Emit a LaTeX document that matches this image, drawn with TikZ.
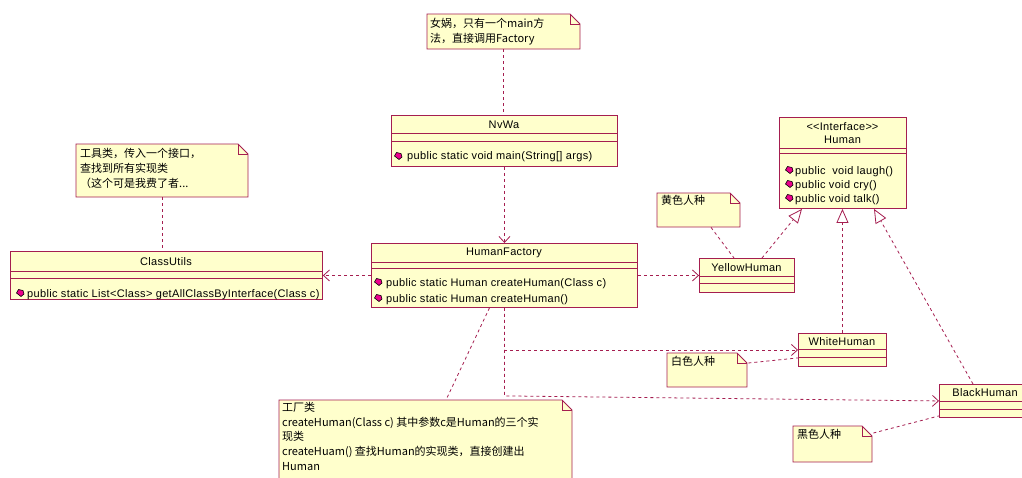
\documentclass[tikz,border=0pt]{standalone}
\usepackage{fontspec}
\setmainfont{Liberation Sans}[LetterSpace=3]
\newfontfamily\cjk{Noto Sans CJK SC}
\usetikzlibrary{arrows.meta,calc}
\definecolor{rose}{RGB}{165,30,80}
\definecolor{notefill}{RGB}{255,255,204}
\tikzset{
  classframe/.style={draw=rose, fill=notefill, line width=0.9pt, inner sep=0pt, anchor=north west, rectangle},
  sepline/.style={draw=rose, line width=0.9pt},
  dep/.style={draw=rose, line width=0.8pt, dash pattern=on 3pt off 3pt, -{Straight Barb[length=6pt,width=11pt,line width=0.8pt]}},
  noteline/.style={draw=rose, line width=0.8pt, dash pattern=on 3pt off 3pt},
  realize/.style={draw=rose, line width=0.8pt, dash pattern=on 3pt off 3pt, -{Triangle[length=14pt,width=12pt,fill=white,line width=0.8pt]}},
  cname/.style={font=\fontsize{11}{13}\selectfont, inner sep=0pt, align=center},
  optext/.style={font=\fontsize{11}{12}\selectfont, inner sep=0pt, anchor=west},
  notetext/.style={font=\cjk\fontsize{11}{14.7}\selectfont, inner sep=0pt, anchor=north west, align=left},
}
\newcommand\opicon[1]{\filldraw[fill=magenta, draw=black, line width=0.6pt] #1 ++(-3.5,0) -- ++(2,-3.5) -- ++(4.5,1) -- ++(1,3.5) -- ++(-3,2.5) -- cycle;}
% name x1 y1 x2 y2 sep1 sep2
\newcommand\classbox[7]{%
  \node[classframe, minimum width={#4-#2}, minimum height={#5-#3}] (#1) at (#2,#3) {};
  \draw[sepline] (#2,#6) -- (#4,#6);
  \draw[sepline] (#2,#7) -- (#4,#7);
}
% name x1 y1 x2 y2
\newcommand\umlnote[5]{%
  \filldraw[draw=rose, fill=notefill, line width=0.9pt] (#2,#3) -- (#4-10,#3) -- (#4,#3+10) -- (#4,#5) -- (#2,#5) -- cycle;
  \draw[rose, line width=0.9pt] (#4-10,#3) -- (#4-10,#3+10) -- (#4,#3+10);
  \node[inner sep=0pt, minimum width={#4-#2}, minimum height={#5-#3}, anchor=north west] (#1) at (#2,#3) {};
}
\begin{document}
\begin{tikzpicture}[x=1pt,y=-1pt]
\useasboundingbox[fill=white] (0,0) rectangle (1022,477);

% notes
\umlnote{notetop}{427}{14}{580}{49}
\node[notetext] (notetop-t) at (430,18) {女娲，只有一个main方\\法，直接调用Factory};
\umlnote{notecu}{76}{144}{248}{197}
\node[notetext] (notecu-t) at (80,148.5) {工具类，传入一个接口，\\查找到所有实现类\\（这个可是我费了者...};
\umlnote{noteyellow}{657}{193}{740}{227}
\node[notetext] (noteyellow-t) at (661,195.5) {黄色人种};
\umlnote{notewhite}{667}{353}{747}{387}
\node[notetext] (notewhite-t) at (671,356.5) {白色人种};
\umlnote{noteblack}{793}{426}{872}{462}
\node[notetext] (noteblack-t) at (797,429.5) {黑色人种};
\umlnote{notefac}{279}{400}{572}{490}
\node[notetext] (notefac-t) at (282,402) {工厂类\\createHuman(Class c) 其中参数c是Human的三个实\\现类\\createHuam() 查找Human的实现类，直接创建出\\Human};

% classes
\classbox{nvwa}{391}{115}{617}{166}{133}{141}
\node[cname] (nvwa-n) at (504,124.5) {NvWa};
\opicon{(398,156)}
\node[optext] (nvwa-o) at (407,157) {public static void main(String[] args)};

\classbox{hf}{371}{243}{637}{307}{262}{268}
\node[cname] (hf-n) at (504,253) {HumanFactory};
\opicon{(378,282)}
\node[optext] (hf-o1) at (386,283.5) {public static Human createHuman(Class c)};
\opicon{(378,298)}
\node[optext] (hf-o2) at (386,299.5) {public static Human createHuman()};

\classbox{cu}{10}{251}{322}{299}{271}{278}
\node[cname] (cu-n) at (166,261.5) {ClassUtils};
\opicon{(20,293)}
\node[optext] (cu-o) at (27,294.5) {public static List<Class> getAllClassByInterface(Class c)};

\classbox{human}{779}{117}{906}{208}{148}{153}
\node[cname] (human-n) at (842.5,133.5) {<\kern0pt<Interface>\kern0pt>\\Human};
\opicon{(789,170)}
\node[optext] (human-o1) at (795,171.5) {public ~void laugh()};
\opicon{(789,184)}
\node[optext] (human-o2) at (795,185.5) {public void cry()};
\opicon{(789,198)}
\node[optext] (human-o3) at (795,199.5) {public void talk()};

\classbox{yellow}{699}{258}{794}{292}{276}{283}
\node[cname] (yellow-n) at (746.5,267.5) {YellowHuman};
\classbox{white}{798}{333}{886}{366}{349}{357}
\node[cname] (white-n) at (842,342) {WhiteHuman};
\classbox{black}{939}{384}{1031}{417}{401}{409}
\node[cname] (black-n) at (985,393) {BlackHuman};

% note anchors
\draw[noteline] (notetop.south) -- (notetop.south |- nvwa.north);
\draw[noteline] (notecu.south) -- (notecu.south |- cu.north);
\draw[noteline] ($(noteyellow.south west)+(54,0)$) -- ($(yellow.north west)+(35,0)$);
\draw[noteline] ($(notewhite.north east)+(1,10)$) -- ($(white.south west)+(0,-9)$);
\draw[noteline] ($(noteblack.north east)+(1,7)$) -- ($(black.south west)+(0,-2)$);
\draw[noteline] ($(hf.south)+(-15,0)$) -- ($(notefac.north west)+(167,0)$);

% dependencies
\draw[dep] (nvwa.south) -- (hf.north);
\draw[dep] (hf.west) -- (hf.west -| cu.east);
\draw[dep] (hf.east) -- (hf.east -| yellow.west);
\draw[dep] (hf.south) |- (white.west);
\draw[dep] (hf.south) -- ++(0,88) -- (black.west);

% realizations
\draw[realize] ($(yellow.north west)+(63,0)$) -- ($(human.south west)+(23,0)$);
\draw[realize] (white.north) -- (white.north |- human.south);
\draw[realize] ($(black.north west)+(34,0)$) -- ($(human.south west)+(95,0)$);
\end{tikzpicture}
\end{document}
